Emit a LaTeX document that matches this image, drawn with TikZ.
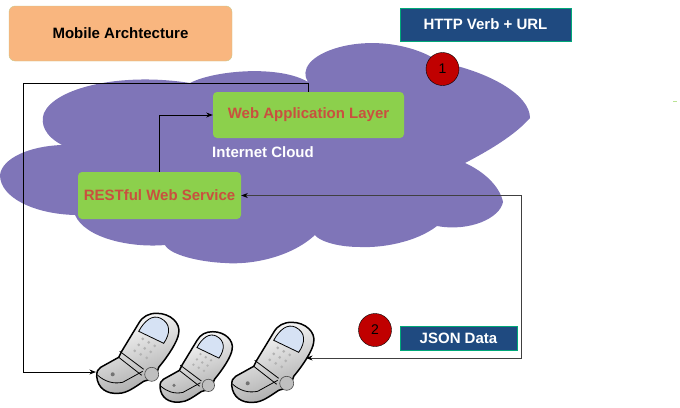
\documentclass[tikz,border=0pt]{standalone}
\usepackage{fontspec}
\setmainfont{Liberation Sans}
\usetikzlibrary{arrows.meta}

\definecolor{cloudfill}{HTML}{7F75B8}
\definecolor{titlefill}{HTML}{F9B67F}
\definecolor{titleline}{HTML}{C9C98C}
\definecolor{layerfill}{HTML}{8CD04C}
\definecolor{layertext}{HTML}{C9503F}
\definecolor{tagfill}{HTML}{1F4A80}
\definecolor{tagline}{HTML}{00A878}
\definecolor{stepfill}{HTML}{C00000}
\definecolor{screenfill}{HTML}{D6E2F4}

\tikzset{
  layerbox/.style={rectangle,rounded corners=4pt,fill=layerfill,text=layertext,
    font=\fontsize{15}{18}\selectfont\bfseries,inner sep=0pt},
  tagbox/.style={rectangle,draw=tagline,line width=0.8pt,fill=tagfill,text=white,
    font=\fontsize{15}{18}\selectfont\bfseries,inner sep=0pt},
  stepdot/.style={circle,draw=black,fill=stepfill,minimum size=33pt,inner sep=0pt,
    font=\fontsize{14}{16}\selectfont},
  phone/.pic={
    \draw[line width=1.5pt,line join=round,top color=white,bottom color=black!35,shading angle=20]
      (60,0) .. controls (74,0) and (84,10) .. (82,20) .. controls (81,28) and (72,42) .. (62,54)
      .. controls (60,62) and (54,67) .. (47,68) .. controls (38,74) and (30,80) .. (22,80)
      .. controls (10,81) and (1,75) .. (0,63) .. controls (0,58) and (1,56) .. (4,54)
      -- (22,44) -- (25,38) -- (42,10) .. controls (46,3) and (52,0) .. (60,0) -- cycle;
    \draw[thick,fill=screenfill] (42,18) -- (67,30) .. controls (74,20) and (74,10) .. (64,5)
      .. controls (56,1) and (48,7) .. (42,18) -- cycle;
    \draw[thick] (23,38) -- (47,56);
    \draw[thick] (22,44) -- (45,62);
    \draw[thick] (1,62) .. controls (8,68) and (16,71) .. (26,69) -- (46,58);
    \draw[semithick,draw=black!70,fill=black!25] (55,61) circle (7);
    \fill[black!55] (16,61) circle (2);
    \foreach \i in {-1,0,1} {
      \foreach \j in {-1,0,1} {
        \fill[black!30] (48+6*\i+4*\j,35+3.5*\i-6*\j) circle (1.5);
      }
    }
  }
}

\begin{document}
\begin{tikzpicture}[x=1pt,y=-1pt]
\useasboundingbox (0,0) rectangle (680,407);

% cloud
\fill[cloudfill] (0,175) .. controls (2,158) and (30,146) .. (62,145)
  .. controls (45,136) and (40,124) .. (44,113) .. controls (55,88) and (120,72) .. (190,83)
  .. controls (215,70) and (280,65) .. (308,82) .. controls (300,70) and (310,55) .. (340,47)
  .. controls (375,38) and (415,45) .. (440,62) .. controls (490,72) and (530,95) .. (530,118)
  .. controls (515,135) and (490,150) .. (465,163) .. controls (485,172) and (500,187) .. (503,202)
  .. controls (500,218) and (470,232) .. (437,226) .. controls (415,243) and (380,248) .. (360,247)
  .. controls (335,247) and (318,240) .. (315,235) .. controls (290,258) and (250,265) .. (225,263)
  .. controls (200,262) and (170,255) .. (165,245) .. controls (130,248) and (85,238) .. (75,215)
  .. controls (35,214) and (0,198) .. (0,175) -- cycle;

\begin{scope}[every node/.style={rectangle}]
    \node (title) at (120.5,33.5) [rounded corners=6pt,draw=titleline,fill=titlefill,
        minimum width=223pt,minimum height=55pt,font=\fontsize{15}{18}\selectfont\bfseries] {Mobile Archtecture};

    \node (web) at (308.5,115) [layerbox,minimum width=191pt,minimum height=46pt] {Web Application Layer};
    \node (rest) at (159.5,195.5) [layerbox,minimum width=163pt,minimum height=47pt] {RESTful Web Service};
    \node (cloud) at (263,152) [text=white,font=\fontsize{15}{18}\selectfont\bfseries] {Internet Cloud};

    \node (verb) at (485.5,24.5) [tagbox,minimum width=171pt,minimum height=33pt] {HTTP Verb + URL};
    \node (json) at (458.5,338) [tagbox,minimum width=117pt,minimum height=24pt] {JSON Data};

    \node (one) at (442.5,69) [stepdot] {1};
    \node (two) at (375,330) [stepdot] {2};
\end{scope}

\pic at (96.7,313.3) {phone};
\pic[scale=0.88] at (160,331.7) {phone};
\pic at (231.7,322.3) {phone};

\coordinate (phoneA) at (96,372);
\coordinate (phoneC) at (306,358);
\coordinate (corner) at (23,83);
\coordinate (bend) at (521,358);

\begin{scope}[>={Stealth[black]},every path/.style={draw=black,line width=0.8pt}]
    \draw [->] (web.north) |- (corner) |- (phoneA);
    \draw [->] (rest.north) |- (web.west);
    \draw [<->,draw=black!75] (rest.east) -| (bend) -- (phoneC);
\end{scope}

\draw[draw=layerfill!60,line width=0.8pt] (673,101) -- (677,101);
\end{tikzpicture}
\end{document}
